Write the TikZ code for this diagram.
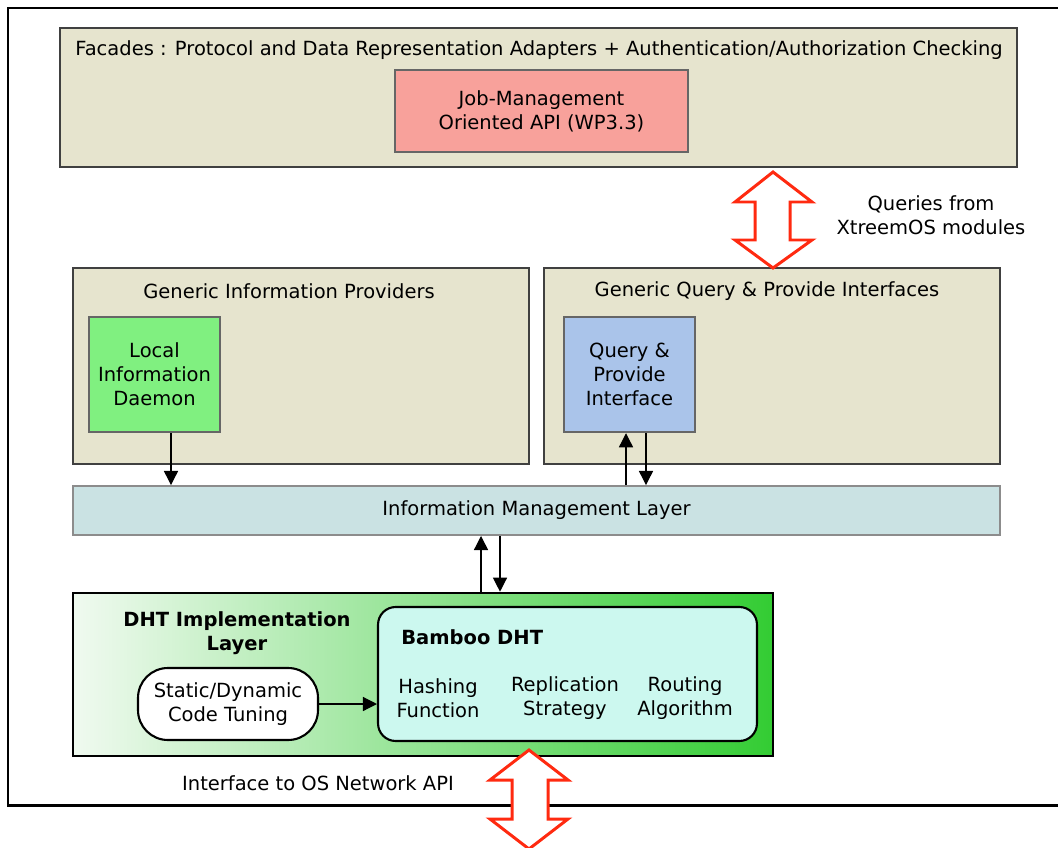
\documentclass[tikz,border=0pt]{standalone}
\usepackage{fontspec}
\setmainfont{DejaVu Sans}
\usetikzlibrary{arrows.meta}
\definecolor{panelfill}{HTML}{E6E4CE}
\definecolor{jobfill}{HTML}{F8A19B}
\definecolor{lidfill}{HTML}{80F080}
\definecolor{qpifill}{HTML}{AAC4EA}
\definecolor{imlfill}{HTML}{CAE2E3}
\definecolor{bamboofill}{HTML}{CCF8EF}
\definecolor{dhtgreen}{HTML}{33CC33}
\definecolor{dhtpale}{HTML}{F0FAF0}
\definecolor{arrowred}{HTML}{FF2A10}
\tikzset{
  frame/.style={draw=black, line width=1.7pt},
  panel/.style={draw=black!75, fill=panelfill, line width=1.1pt},
  inner/.style={draw=black!60, line width=1.4pt, align=center, font=\fontsize{11.1}{13.7}\selectfont},
  label/.style={font=\fontsize{11.1}{13.7}\selectfont, align=center, inner sep=0pt},
  boldlabel/.style={font=\fontsize{11.1}{13.7}\selectfont\bfseries, align=center, inner sep=0pt},
  link/.style={draw=black, line width=0.7pt, -{Triangle[length=8pt,width=8pt]}},
  bigarrow/.style={draw=arrowred, fill=white, line width=1.7pt, line join=miter},
}

\begin{document}
\begin{tikzpicture}[x=0.02cm, y=-0.02cm]
\useasboundingbox (0,0) rectangle (1058,848);
\draw[frame] (8,8) rectangle (1080,805);
% facades
\node[panel, minimum width=19.14cm, minimum height=2.78cm] (facades) at (538.5,97.5) {};
\node[label, anchor=west] (facadestitle) at (75,50) {Facades : Protocol and Data Representation Adapters + Authentication/Authorization Checking};
\node[inner, fill=jobfill, minimum width=5.86cm, minimum height=1.64cm] (job) at (541.5,111) {Job-Management\\Oriented API (WP3.3)};
% providers and interfaces
\node[panel, minimum width=9.12cm, minimum height=3.92cm] (gip) at (301,366) {};
\node[label] (giptitle) at (289,291) {Generic Information Providers};
\node[inner, fill=lidfill, minimum width=2.62cm, minimum height=2.30cm] (lid) at (154.5,374.5) {Local\\Information\\Daemon};
\node[panel, minimum width=9.12cm, minimum height=3.92cm] (gqp) at (772,366) {};
\node[label] (gqptitle) at (767,291) {Generic Query \& Provide Interfaces};
\node[inner, fill=qpifill, minimum width=2.62cm, minimum height=2.30cm] (qpi) at (629.5,374.5) {Query \&\\Provide\\Interface};
\node[label] (queries) at (931,215) {Queries from\\XtreemOS modules};
% information management layer
\node[draw=black!45, fill=imlfill, line width=1.1pt, minimum width=18.54cm, minimum height=0.98cm, font=\fontsize{11.1}{13.7}\selectfont] (iml) at (536.5,510.5) {Information Management Layer};
% dht layer
\node[draw=black, line width=1.5pt, left color=dhtpale, right color=dhtgreen, minimum width=14.0cm, minimum height=3.26cm] (dht) at (423,674.5) {};
\node[boldlabel] (dhttitle) at (237,633) {DHT Implementation\\Layer};
\node[draw=black, line width=1.2pt, fill=bamboofill, rounded corners=10pt, minimum width=7.58cm, minimum height=2.68cm] (bamboo) at (567.5,674) {};
\node[boldlabel, anchor=west] (bambootitle) at (401,637) {Bamboo DHT};
\node[label] (hashing) at (438,698) {Hashing\\Function};
\node[label] (replication) at (565,698) {Replication\\Strategy};
\node[label] (routing) at (685,698) {Routing\\Algorithm};
\node[draw=black, line width=1.2pt, fill=white, rounded corners=17pt, minimum width=3.6cm, minimum height=1.44cm, align=center, font=\fontsize{11.1}{13.7}\selectfont] (tuning) at (228,704) {Static/Dynamic\\Code Tuning};
\node[label] (netapi) at (318,783) {Interface to OS Network API};
% connectors
\draw[link] (tuning.east) -- (tuning.east -| bamboo.west);
\draw[link] ([xshift=0.33cm]lid.south) -- ([xshift=0.33cm]lid.south |- iml.north);
\draw[link] ([xshift=-0.07cm]qpi.south |- iml.north) -- ([xshift=-0.07cm]qpi.south);
\draw[link] ([xshift=0.33cm]qpi.south) -- ([xshift=0.33cm]qpi.south |- iml.north);
\draw[link] ([xshift=-1.11cm]iml.south |- dht.north) -- ([xshift=-1.11cm]iml.south);
\draw[link] ([xshift=-0.73cm]iml.south) -- ([xshift=-0.73cm]iml.south |- dht.north);
% big double arrows
\draw[bigarrow] (773,172) -- (812,202) -- (790,202) -- (790,240) -- (812,240) -- (773,268)
  -- (735,240) -- (755,240) -- (755,202) -- (735,202) -- cycle;
\draw[bigarrow] (529,750) -- (568,780) -- (548,780) -- (548,819) -- (568,819) -- (529,849)
  -- (490,819) -- (512,819) -- (512,780) -- (490,780) -- cycle;
\end{tikzpicture}
\end{document}
